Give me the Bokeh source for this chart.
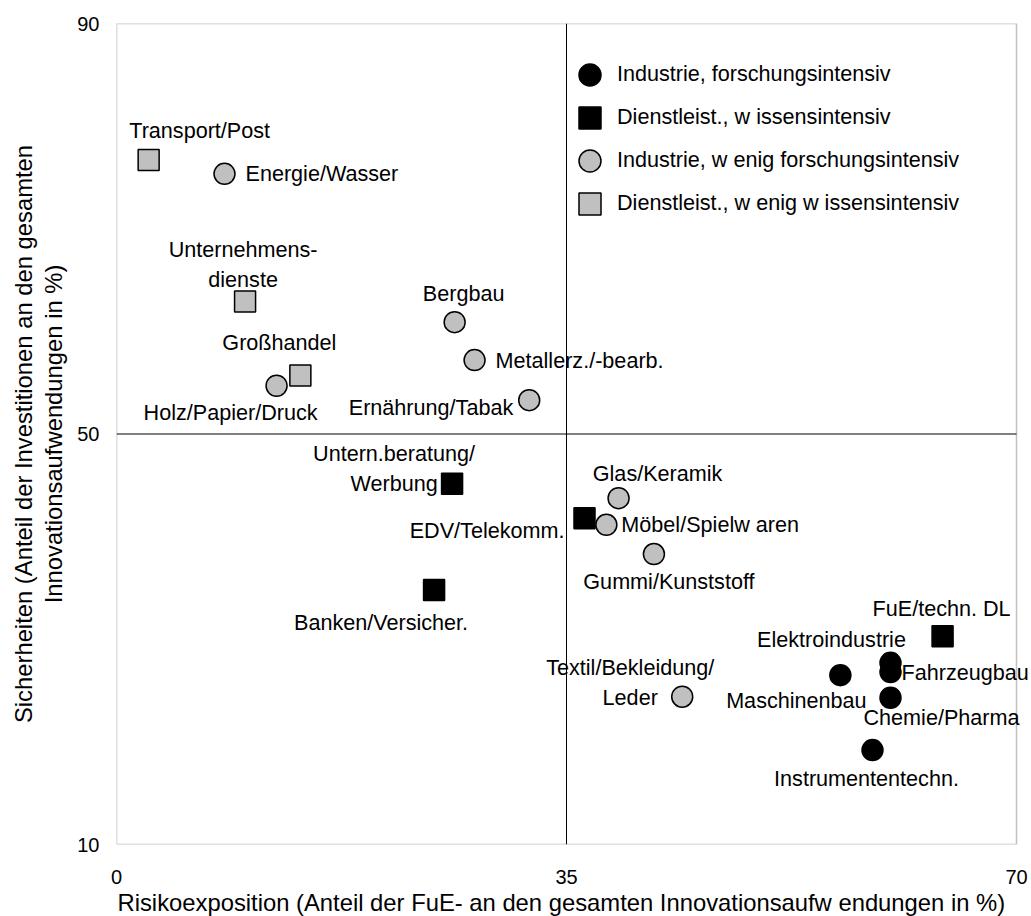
from bokeh.plotting import figure
from bokeh.models import (ColumnDataSource, Range1d, FixedTicker, LinearAxis, Span,
                          Legend, LegendItem, Label, BoxAnnotation, Title)
from bokeh.embed import file_html
from bokeh.resources import INLINE

# ---------------- data ----------------
names = ["Transport/Post", "Energie/Wasser", "Unternehmens-\ndienste", "Bergbau",
         "Metallerz./-bearb.", "Großhandel", "Holz/Papier/Druck", "Ernährung/Tabak",
         "Untern.beratung/\nWerbung", "EDV/Telekomm.", "Glas/Keramik", "Möbel/Spielw aren",
         "Gummi/Kunststoff", "Banken/Versicher.", "FuE/techn. DL", "Elektroindustrie",
         "Fahrzeugbau", "Maschinenbau", "Chemie/Pharma", "Instrumententechn.",
         "Textil/Bekleidung/\nLeder"]
risk = [2.5, 8.4, 10.0, 26.3, 27.85, 14.3, 12.45, 32.1, 26.1, 36.4, 39.05, 38.1,
        41.8, 24.7, 64.25, 60.2, 60.2, 56.3, 60.2, 58.8, 44.0]
security = [76.7, 75.35, 62.9, 60.9, 57.2, 55.7, 54.7, 53.3, 45.15, 41.8, 43.75, 41.15,
            38.3, 34.8, 30.3, 27.7, 26.8, 26.5, 24.3, 19.2, 24.4]
group = [3, 2, 3, 2, 2, 3, 2, 2, 1, 1, 2, 2, 2, 1, 1, 0, 0, 0, 0, 0, 2]

group_labels = ["Industrie, forschungsintensiv",
                "Dienstleist., w issensintensiv",
                "Industrie, w enig forschungsintensiv",
                "Dienstleist., w enig w issensintensiv"]

x_ticks = [0, 35, 70]
y_ticks = [10, 50, 90]
x_title = "Risikoexposition (Anteil der FuE- an den gesamten Innovationsaufw endungen in %)"
y_title_1 = "Sicherheiten (Anteil der Investitionen an den gesamten"
y_title_2 = "Innovationsaufwendungen in %)"

# ---------------- styling (label placement in screen px) ----------------
label_dx = [51, 21, -2, 9, 21, -21, -46, -16, -58, -20, 39, 15, 15, -53, -1, -59, 11, -44, 51, -6, -52]
label_dy_down = [-29, 0, -37, -29, 0, -33, 27, 7, -15, 12, -25, 0, 27, 33, -28, -23, 0, 25, 20, 28, -14.5]
label_align = ["center", "left", "center", "center", "left", "center", "center", "right",
               "center", "right", "center", "left", "center", "center", "center", "center",
               "left", "center", "center", "center", "center"]
LINE_STEP = 30
group_marker = ["circle", "square", "circle", "square"]
group_fill = ["black", "black", "#c0c0c0", "#c0c0c0"]
legend_rows_from_bottom = [742.5, 699.5, 656.5, 613.5]

FONT = "Liberation Sans"
LABEL_SIZE = "21.6px"
TITLE_SIZE = "23.8px"
TICK_SIZE = "20px"

# the frame runs 15 px past the drawn box so that labels may overhang its right edge
BOX_W = 900
EXTRA_RIGHT = 15
x_lo, x_hi = x_ticks[0], x_ticks[-1]
y_lo, y_hi = y_ticks[0], y_ticks[-1]
x_view_hi = x_hi + (x_hi - x_lo) * EXTRA_RIGHT / BOX_W

p = figure(width=1031, height=916, x_range=Range1d(x_lo, x_view_hi), y_range=Range1d(y_lo, y_hi),
           output_backend="svg", toolbar_location=None,
           min_border_left=116, min_border_right=0, min_border_top=23, min_border_bottom=72)
p.grid.visible = False
p.outline_line_color = None
p.background_fill_color = "white"
p.border_fill_color = "white"

# drawn plot box
p.add_layout(BoxAnnotation(left=x_lo, right=x_hi, bottom=y_lo, top=y_hi,
                           fill_alpha=0, fill_color=None,
                           line_color="#333333", line_width=1.5))

# x axis
xa = p.xaxis[0]
xa.ticker = FixedTicker(ticks=x_ticks)
xa.axis_line_color = None
xa.major_tick_line_color = None
xa.minor_tick_line_color = None
xa.major_tick_out = 0
xa.major_label_standoff = 25
xa.major_label_text_font = FONT
xa.major_label_text_font_size = TICK_SIZE
xa.major_label_text_color = "black"

# x title as a left-aligned title under the axis (starts at the box's left edge)
p.add_layout(Title(text=x_title, align="left", offset=1, standoff=0,
                   text_font=FONT, text_font_size=TITLE_SIZE, text_font_style="normal",
                   text_color="black"), "below")

# y axis (second title line)
ya = p.yaxis[0]
ya.ticker = FixedTicker(ticks=y_ticks)
ya.axis_line_color = None
ya.major_tick_line_color = None
ya.minor_tick_line_color = None
ya.major_tick_out = 0
ya.major_label_standoff = 17
ya.major_label_text_font = FONT
ya.major_label_text_font_size = TICK_SIZE
ya.major_label_text_color = "black"
ya.axis_label = y_title_2
ya.axis_label_text_font = FONT
ya.axis_label_text_font_size = TITLE_SIZE
ya.axis_label_text_font_style = "normal"
ya.axis_label_text_color = "black"
ya.axis_label_standoff = 7

# extra axis carrying first title line
ya2 = LinearAxis(ticker=FixedTicker(ticks=[]), axis_label=y_title_1,
                 axis_line_color=None, major_tick_line_color=None, minor_tick_line_color=None,
                 major_tick_out=0, major_label_standoff=0,
                 axis_label_text_font=FONT, axis_label_text_font_size=TITLE_SIZE,
                 axis_label_text_font_style="normal", axis_label_text_color="black",
                 axis_label_standoff=1)
p.add_layout(ya2, "left")

# quadrant lines at the middle ticks
p.add_layout(Span(location=x_ticks[1], dimension="height", line_color="black", line_width=1))
p.segment(x0=[x_lo], y0=[y_ticks[1]], x1=[x_hi], y1=[y_ticks[1]], line_color="black", line_width=1)

# markers per group
renderers = []
for g in range(4):
    idx = [i for i in range(len(names)) if group[i] == g]
    src = ColumnDataSource(dict(x=[risk[i] for i in idx], y=[security[i] for i in idx]))
    r = p.scatter("x", "y", source=src, marker=group_marker[g], size=21,
                  fill_color=group_fill[g], line_color="black", line_width=1.5)
    renderers.append(r)

# legend: one single-row legend per group so rows can sit closer than the glyph box
for g in range(4):
    lg = Legend(items=[LegendItem(label=group_labels[g], renderers=[renderers[g]])],
                location=(446, legend_rows_from_bottom[g]), glyph_height=55, glyph_width=55,
                label_standoff=0, padding=0, margin=0,
                border_line_color=None, background_fill_alpha=0,
                label_text_font=FONT, label_text_font_size=LABEL_SIZE, label_text_color="black")
    p.add_layout(lg)

# point labels (multi-line labels split into centred lines)
for i, nm in enumerate(names):
    lines = nm.split("\n")
    n = len(lines)
    for k, line in enumerate(lines):
        down = label_dy_down[i] + (k - (n - 1) / 2) * LINE_STEP
        p.add_layout(Label(x=risk[i], y=security[i], text=line,
                           x_offset=label_dx[i], y_offset=-down,
                           text_align=label_align[i], text_baseline="middle",
                           text_font=FONT, text_font_size=LABEL_SIZE, text_color="black"))

open("out.html", "w").write(file_html(p, INLINE))
